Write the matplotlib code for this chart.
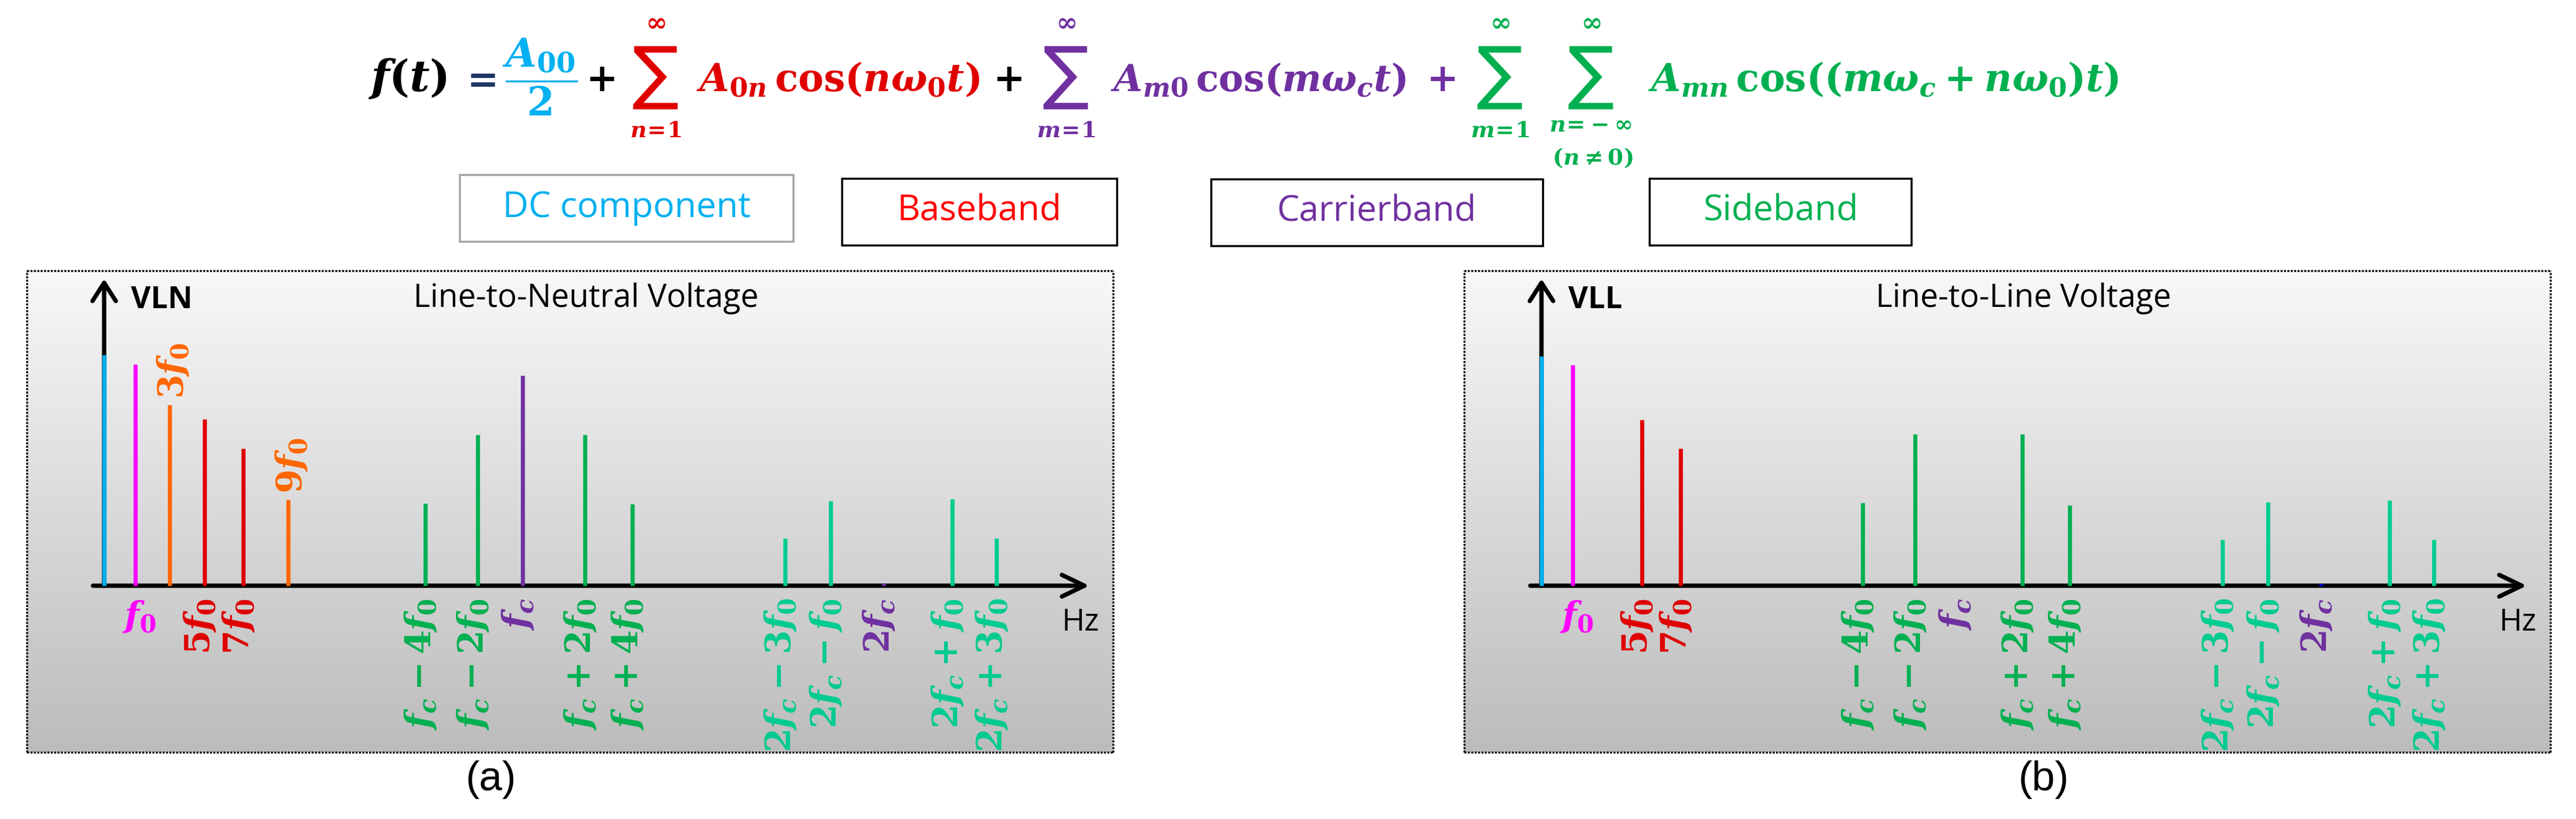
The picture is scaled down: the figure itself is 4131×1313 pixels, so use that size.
import numpy as np
import matplotlib.pyplot as plt
from matplotlib.colors import LinearSegmentedColormap
from matplotlib.patches import Rectangle

W, H = 4131, 1313

# spectral lines (schematic frequency positions, shared by both panels)
components = ["DC", "f0", "3f0", "5f0", "7f0", "9f0",
              "fc-4f0", "fc-2f0", "fc", "fc+2f0", "fc+4f0",
              "2fc-3f0", "2fc-f0", "2fc", "2fc+f0", "2fc+3f0"]
freq_pos = [0.00, 0.50, 1.05, 1.61, 2.23, 2.95,
            5.15, 5.99, 6.71, 7.71, 8.47,
            10.92, 11.65, 12.50, 13.60, 14.31]
# amplitudes (arbitrary units)
vln_amp = [3.70, 3.55, 2.90, 2.67, 2.20, 1.38,
           1.32, 2.42, 3.37, 2.42, 1.31,
           0.76, 1.36, 0.04, 1.39, 0.76]
vll_amp = [3.68, 3.54, 0.00, 2.66, 2.20, 0.00,
           1.33, 2.43, 0.00, 2.43, 1.29,
           0.74, 1.34, 0.03, 1.37, 0.74]
vln_labels = components[1:]
vll_labels = ["f0", "5f0", "7f0", "fc-4f0", "fc-2f0", "fc", "fc+2f0", "fc+4f0",
              "2fc-3f0", "2fc-f0", "2fc", "2fc+f0", "2fc+3f0"]

tex = {
    "f0": r"$f_0$", "3f0": r"$3f_0$", "5f0": r"$5f_0$", "7f0": r"$7f_0$", "9f0": r"$9f_0$",
    "fc-4f0": r"$f_c-4f_0$", "fc-2f0": r"$f_c-2f_0$", "fc": r"$f_c$",
    "fc+2f0": r"$f_c+2f_0$", "fc+4f0": r"$f_c+4f_0$",
    "2fc-3f0": r"$2f_c-3f_0$", "2fc-f0": r"$2f_c-f_0$", "2fc": r"$2f_c$",
    "2fc+f0": r"$2f_c+f_0$", "2fc+3f0": r"$2f_c+3f_0$",
}

CYAN, MAGENTA, ORANGE, RED = "#00B0F0", "#FF00FF", "#FF6600", "#E00000"
GREEN, PURPLE, TEAL = "#00B050", "#7030A0", "#00CC90"
band = {"DC": CYAN, "f0": MAGENTA, "3f0": ORANGE, "5f0": RED, "7f0": RED, "9f0": ORANGE,
        "fc": PURPLE, "2fc": PURPLE}
for c in components:
    if c.startswith("fc") and c != "fc":
        band[c] = GREEN
    elif c.startswith("2fc") and c != "2fc":
        band[c] = TEAL

plt.rcParams["mathtext.fontset"] = "custom"
plt.rcParams["mathtext.rm"] = "DejaVu Serif:bold"
plt.rcParams["mathtext.it"] = "DejaVu Serif:italic:bold"
plt.rcParams["mathtext.bf"] = "DejaVu Serif:bold"

fig = plt.figure(figsize=(W / 100, H / 100), dpi=100)


def put(x, y, s, **kw):
    fig.text(x / W, 1 - y / H, s, **kw)


# ---- formula -------------------------------------------------------------
FS = 44
BL = 146
put(590, BL, r"$f(t)$", color="black", fontsize=FS + 6, va="baseline")
put(736, BL, r"$=$", color="#1F3864", fontsize=FS, va="baseline")
put(806, BL, r"$\dfrac{A_{00}}{2}$", color=CYAN, fontsize=FS + 2, va="baseline")
put(939, BL, r"$+$", color="black", fontsize=FS, va="baseline")


def sigma(x, color, low, low_y=210):
    put(x, 123, "\u2211", color=color, fontsize=80, ha="center", va="center",
        family=["DejaVu Sans"])
    put(x, 36, r"$\infty$", color=color, fontsize=30, ha="center", va="center")
    put(x, low_y, low, color=color, fontsize=26, ha="center", va="center")


sigma(1051, RED, r"$n\!=\!1$")
put(1117, BL, r"$A_{0n}\,\cos(n\omega_0 t)$", color=RED, fontsize=FS, va="baseline")
put(1592, BL, r"$+$", color="black", fontsize=FS, va="baseline")
sigma(1709, PURPLE, r"$m\!=\!1$")
put(1781, BL, r"$A_{m0}\,\cos(m\omega_c t)$", color=PURPLE, fontsize=FS - 1,
    va="baseline")
put(2287, BL, r"$+$", color=PURPLE, fontsize=FS, va="baseline")
sigma(2405, GREEN, r"$m\!=\!1$")
sigma(2551, GREEN, r"$n\!=\!-\infty$", low_y=201)
put(2554, 253, r"$(n\neq0)$", color=GREEN, fontsize=26, ha="center", va="center")
put(2643, BL, r"$A_{mn}\,\cos((m\omega_c+n\omega_0)t)$", color=GREEN, fontsize=FS,
    va="baseline")

# ---- legend boxes ----------------------------------------------------------
boxes = [("DC component", CYAN, 737, 1272, 280, 387, "#A6A6A6"),
         ("Baseband", "#FF0000", 1350, 1791, 286, 393, "black"),
         ("Carrierband", PURPLE, 1942, 2474, 287, 394, "black"),
         ("Sideband", GREEN, 2645, 3065, 286, 393, "black")]
for txt, col, x0, x1, y0, y1, ec in boxes:
    fig.add_artist(Rectangle((x0 / W, 1 - y1 / H), (x1 - x0) / W, (y1 - y0) / H,
                             transform=fig.transFigure, fill=False, ec=ec, lw=2.4))
    put((x0 + x1) / 2, (y0 + y1) / 2, txt, color=col, fontsize=41, ha="center",
        va="center", family="Open Sans")

# ---- spectra ---------------------------------------------------------------
bg = LinearSegmentedColormap.from_list("bg", ["#F8F8F8", "#BCBCBC"])
XL, XR, YB, YT = -1.24, 16.18, -2.67, 5.05
LFS = 40


def draw_panel(left, amps, labels, title, vname, dot_color):
    ax = fig.add_axes([left / W, 1 - 1206 / H, 1742 / W, 772 / H])
    ax.imshow(np.linspace(0, 1, 256).reshape(-1, 1), cmap=bg, aspect="auto",
              extent=[XL, XR, YB, YT], origin="upper", zorder=0)
    ax.set_xlim(XL, XR)
    ax.set_ylim(YB, YT)
    ax.set_xticks([])
    ax.set_yticks([])
    for s in ax.spines.values():
        s.set_linestyle((0, (1, 0.7)))
        s.set_linewidth(2.3)
        s.set_capstyle("butt")
        s.set_zorder(6)

    arrow = dict(arrowstyle="->,head_length=2.6,head_width=1.25", lw=5, color="black",
                 shrinkA=0, shrinkB=0)
    ax.annotate("", xy=(15.80, 0), xytext=(-0.18, 0), arrowprops=arrow, zorder=2)
    ax.annotate("", xy=(0, 4.92), xytext=(0, 0), arrowprops=dict(
        arrow, arrowstyle="->,head_length=2.1,head_width=1.35"), zorder=2)

    for c, x, a in zip(components, freq_pos, amps):
        if a <= 0:
            continue
        col = band[c]
        if c == "2fc":
            col = dot_color
        ax.vlines(x, 0, a, colors=col, lw=4.7, zorder=3)

    for c in labels:
        i = components.index(c)
        x, a = freq_pos[i], amps[i]
        if c == "f0":
            ax.text(x + 0.06, -0.50, tex[c], color=band[c], fontsize=LFS,
                    ha="center", va="center")
        elif c in ("3f0", "9f0"):
            ax.text(x + 0.06, a + 0.10, tex[c], color=band[c], fontsize=LFS,
                    rotation=90, ha="center", va="bottom")
        else:
            ax.text(x - 0.07, -0.20, tex[c], color=band[c], fontsize=LFS,
                    rotation=90, ha="center", va="top")

    ax.text(7.73, 4.60, title, fontsize=37, ha="center", va="center",
            family="Open Sans")
    ax.text(0.43, 4.58, vname, fontsize=35, fontweight="bold", ha="left",
            va="center", family="Open Sans")
    ax.text(15.65, -0.59, "Hz", fontsize=36, ha="center", va="center",
            family="Open Sans")
    return ax


draw_panel(43, vln_amp, vln_labels, "Line-to-Neutral Voltage", "VLN", PURPLE)
draw_panel(2348, vll_amp, vll_labels, "Line-to-Line Voltage", "VLL", "#0000FF")

put(788, 1250, "(a)", fontsize=48, ha="center", va="center", family="Liberation Sans")
put(3278, 1250, "(b)", fontsize=48, ha="center", va="center", family="Liberation Sans")

fig.savefig("out.png", dpi=100, facecolor="white")
